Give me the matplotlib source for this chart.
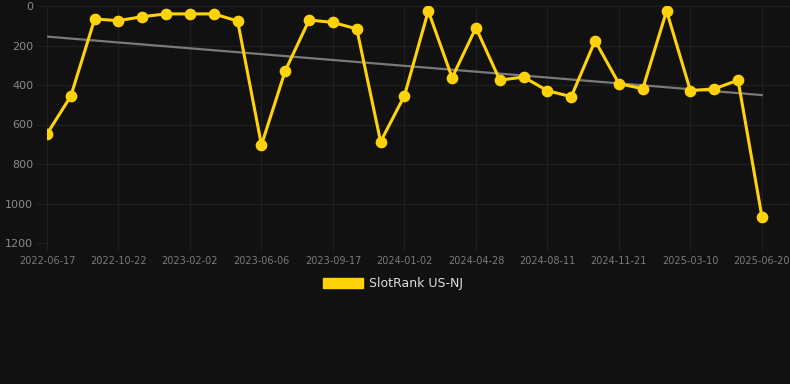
import numpy as np
import matplotlib
matplotlib.use("Agg")
import matplotlib.pyplot as plt
from matplotlib.patches import Patch

tick_labels = ['2022-06-17', '2022-10-22', '2023-02-02', '2023-06-06', '2023-09-17',
               '2024-01-02', '2024-04-28', '2024-08-11', '2024-11-21', '2025-03-10',
               '2025-06-20']
rank = [648, 456, 66, 74, 54, 40, 40, 40, 76, 704,
        327, 71, 83, 116, 687, 454, 25, 363, 110, 375,
        360, 429, 459, 176, 393, 419, 25, 429, 419, 376,
        1067]
trend_ends = [155, 451]

bg = '#111111'
gold = '#FFD20A'
grid = '#1f1f1f'

fig = plt.figure(figsize=(7.9, 3.84), dpi=100, facecolor=bg)
ax = fig.add_axes([47 / 790, 1 - 243 / 384, 743 / 790, 237 / 384], facecolor=bg)

x = np.arange(len(rank))
ax.plot([x[0], x[-1]], trend_ends, color='#7a7a7a', lw=1.6, zorder=2)
ax.plot(x, rank, color=gold, lw=2.2, marker='o', ms=7.4, zorder=3,
        solid_joinstyle='round')

ax.set_ylim(1200, 0)
ax.set_xlim(0, (790 - 47) / 23.83)
ax.set_yticks(range(0, 1201, 200))
ax.set_xticks(x[::3])
ax.set_xticklabels(tick_labels)

ax.grid(True, color=grid, lw=1)
ax.set_axisbelow(True)
for s in ax.spines.values():
    s.set_visible(False)
ax.tick_params(axis='y', colors=grid, labelcolor='#8a8a8a', labelsize=8,
               length=8, pad=2)
ax.tick_params(axis='x', colors=grid, labelcolor='#7a7a7a', labelsize=7,
               length=6, pad=3)

handle = Patch(facecolor=gold, edgecolor=gold)
fig.legend([handle], ['SlotRank US-NJ'], loc='center', bbox_to_anchor=(393 / 790, 1 - 284 / 384),
           frameon=False, fontsize=9, labelcolor='#dddddd', handlelength=3.2,
           handleheight=0.9, handletextpad=0.5)

fig.savefig('out.png', dpi=100, facecolor=bg)
